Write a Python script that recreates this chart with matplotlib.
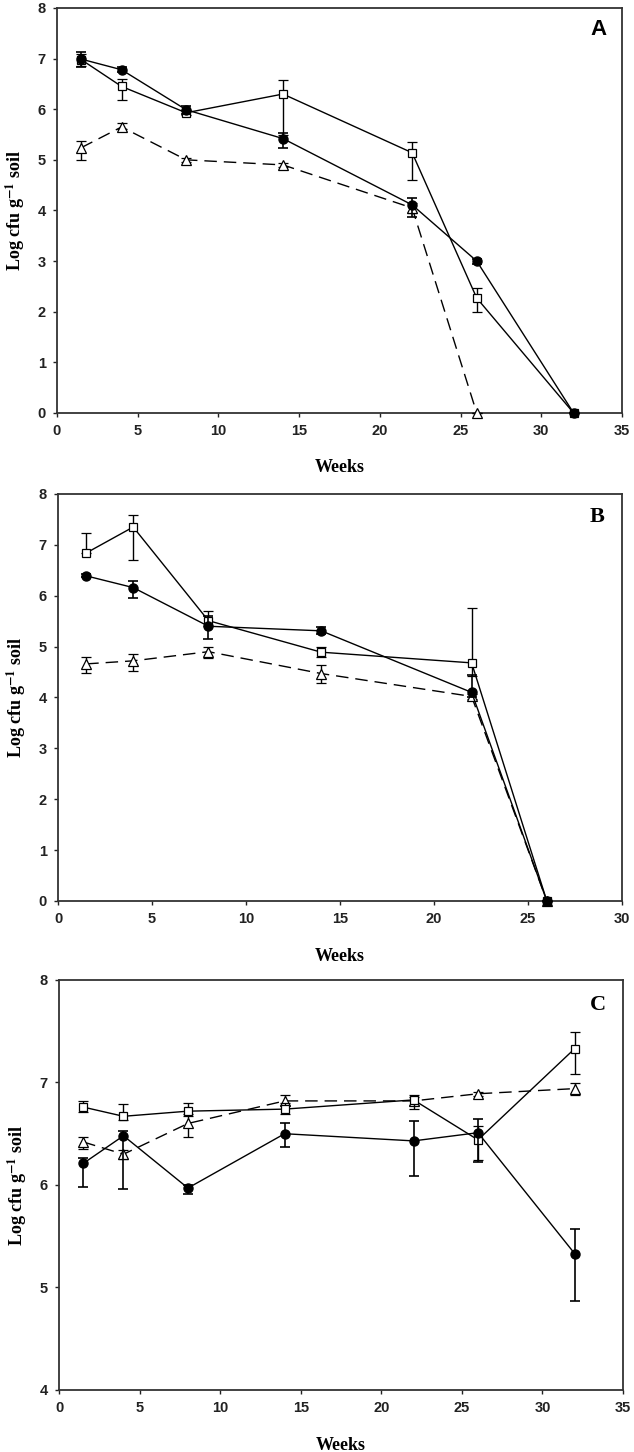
import matplotlib
matplotlib.use("Agg")
import matplotlib.pyplot as plt

plt.rcParams['mathtext.fontset'] = 'stix'

# ---- Panel A ----
weeks_a = [1.5, 4, 8, 14, 22, 26, 32]
circ_a = [6.99, 6.78, 5.99, 5.42, 4.11, 3.0, 0.0]
circ_a_lo = [0.15, 0.05, 0.08, 0.18, 0.24, 0.05, 0.0]
circ_a_hi = [0.15, 0.05, 0.08, 0.11, 0.14, 0.05, 0.0]
sq_a = [6.98, 6.45, 5.93, 6.30, 5.14, 2.27, 0.0]
sq_a_lo = [0.12, 0.26, 0.05, 0.80, 0.54, 0.27, 0.0]
sq_a_hi = [0.12, 0.15, 0.05, 0.27, 0.22, 0.20, 0.0]
weeks_a_tri = [1.5, 4, 8, 14, 22, 26]
tri_a = [5.24, 5.65, 5.0, 4.9, 4.05, 0.0]
tri_a_lo = [0.25, 0.05, 0.04, 0.04, 0.1, 0.0]
tri_a_hi = [0.14, 0.07, 0.04, 0.04, 0.1, 0.0]

# ---- Panel B ----
weeks_b = [1.5, 4, 8, 14, 22, 26]
circ_b = [6.39, 6.16, 5.40, 5.31, 4.10, 0.0]
circ_b_lo = [0.03, 0.21, 0.26, 0.07, 0.1, 0.0]
circ_b_hi = [0.03, 0.13, 0.2, 0.07, 0.35, 0.0]
sq_b = [6.84, 7.35, 5.51, 4.89, 4.68, 0.0]
sq_b_lo = [0.0, 0.64, 0.1, 0.1, 0.25, 0.0]
sq_b_hi = [0.39, 0.23, 0.19, 0.1, 1.07, 0.0]
tri_b = [4.66, 4.72, 4.90, 4.47, 4.02, 0.0]
tri_b_lo = [0.18, 0.19, 0.12, 0.19, 0.05, 0.0]
tri_b_hi = [0.14, 0.13, 0.09, 0.17, 0.05, 0.0]

# ---- Panel C ----
weeks_c = [1.5, 4, 8, 14, 22, 26, 32]
circ_c = [6.21, 6.48, 5.97, 6.50, 6.43, 6.51, 5.33]
circ_c_lo = [0.23, 0.52, 0.06, 0.13, 0.34, 0.29, 0.46]
circ_c_hi = [0.05, 0.05, 0.03, 0.10, 0.19, 0.13, 0.24]
sq_c = [6.76, 6.67, 6.72, 6.74, 6.83, 6.44, 7.33]
sq_c_lo = [0.05, 0.04, 0.03, 0.05, 0.09, 0.20, 0.25]
sq_c_hi = [0.06, 0.12, 0.08, 0.06, 0.05, 0.14, 0.16]
tri_c = [6.42, 6.30, 6.60, 6.82, 6.82, 6.89, 6.94]
tri_c_lo = [0.07, 0.05, 0.13, 0.04, 0.04, 0.02, 0.06]
tri_c_hi = [0.05, 0.04, 0.07, 0.06, 0.04, 0.02, 0.05]

panels = [
    dict(letter='A', letter_font='Liberation Sans', xmax=35, ymin=0,
         rect=[0.0899, 0.7156, 0.8912, 0.2789],
         circ=(weeks_a, circ_a, circ_a_lo, circ_a_hi),
         sq=(weeks_a, sq_a, sq_a_lo, sq_a_hi),
         tri=(weeks_a_tri, tri_a, tri_a_lo, tri_a_hi),
         lpos=(0.959, 0.946)),
    dict(letter='B', letter_font='Liberation Serif', xmax=30, ymin=0,
         rect=[0.0915, 0.3795, 0.8896, 0.2803],
         circ=(weeks_b, circ_b, circ_b_lo, circ_b_hi),
         sq=(weeks_b, sq_b, sq_b_lo, sq_b_hi),
         tri=(weeks_b, tri_b, tri_b_lo, tri_b_hi),
         lpos=(0.955, 0.943)),
    dict(letter='C', letter_font='Liberation Serif', xmax=35, ymin=4,
         rect=[0.0931, 0.0427, 0.8896, 0.2824],
         circ=(weeks_c, circ_c, circ_c_lo, circ_c_hi),
         sq=(weeks_c, sq_c, sq_c_lo, sq_c_hi),
         tri=(weeks_c, tri_c, tri_c_lo, tri_c_hi),
         lpos=(0.955, 0.939)),
]

fig = plt.figure(figsize=(6.34, 14.52), dpi=100)

for p in panels:
    ax = fig.add_axes(p['rect'])

    x, y, lo, hi = p['tri']
    ax.errorbar(x, y, yerr=[lo, hi], color='black', lw=1.0, dashes=(9, 5),
                marker='^', ms=6.5, mfc='white', mec='black', mew=0.9,
                ecolor='black', elinewidth=1.0, capsize=3.5, capthick=1.0,
                clip_on=False, zorder=3)
    x, y, lo, hi = p['sq']
    ax.errorbar(x, y, yerr=[lo, hi], color='black', lw=1.0, ls='-',
                marker='s', ms=6, mfc='white', mec='black', mew=0.9,
                ecolor='black', elinewidth=1.0, capsize=3.5, capthick=1.0,
                clip_on=False, zorder=4)
    x, y, lo, hi = p['circ']
    ax.errorbar(x, y, yerr=[lo, hi], color='black', lw=1.0, ls='-',
                marker='o', ms=6.5, mfc='black', mec='black',
                ecolor='black', elinewidth=1.2, capsize=3.5, capthick=1.2,
                clip_on=False, zorder=5)

    ax.set_xlim(0, p['xmax'])
    ax.set_ylim(p['ymin'], 8)
    ax.set_xticks(range(0, p['xmax'] + 1, 5))
    ax.set_yticks(range(p['ymin'], 9))
    ax.tick_params(direction='out', length=3, width=1, colors='#222222',
                   labelsize=10.5, pad=5)
    for lab in ax.get_xticklabels() + ax.get_yticklabels():
        lab.set_fontfamily('Liberation Sans')
        lab.set_fontweight('bold')
    for s in ax.spines.values():
        s.set_linewidth(1.3)
        s.set_color('#333333')

    ax.set_xlabel('Weeks', family='Liberation Serif', weight='bold', fontsize=13)
    ax.xaxis.set_label_coords(0.5, -55 / 405)
    ax.xaxis.label.set_va('center')
    ax.set_ylabel(r'Log cfu g$^{\mathbf{-1}}$ soil', family='Liberation Serif',
                  weight='bold', fontsize=13)
    ax.yaxis.set_label_coords(-42 / 565, 0.5)
    ax.yaxis.label.set_va('center')

    ax.text(p['lpos'][0], p['lpos'][1], p['letter'], transform=ax.transAxes,
            ha='center', va='center', family=p['letter_font'],
            weight='bold', fontsize=16)

fig.savefig('out.png', dpi=100)
